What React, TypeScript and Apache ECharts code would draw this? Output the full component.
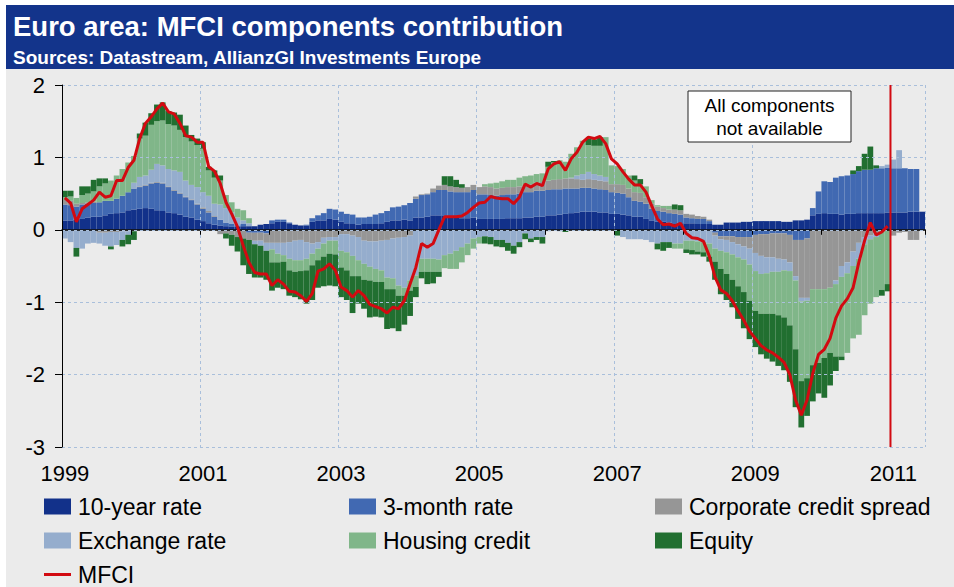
import React, { useEffect, useRef } from "react";
import * as echarts from "echarts";

// Monthly categories, Jan 1999 - Jun 2011
const months: string[] = [];
for (let i = 0; i < 150; i++) {
  const y = 1999 + Math.floor(i / 12);
  const m = (i % 12) + 1;
  months.push(`${y}-${m < 10 ? "0" + m : m}`);
}

const tenYear = [
  0.13, 0.13, 0.14, 0.15, 0.17, 0.18, 0.18, 0.2, 0.22, 0.23, 0.24, 0.27,
  0.28, 0.29, 0.3, 0.29, 0.27, 0.26, 0.24, 0.23, 0.21, 0.18, 0.17, 0.14,
  0.12, 0.09, 0.07, 0.06, 0.05, 0.04, 0.04, 0.05, 0.05, 0.05, 0.07, 0.08,
  0.09, 0.11, 0.11, 0.09, 0.07, 0.06, 0.06, 0.11, 0.13, 0.13, 0.15, 0.14,
  0.11, 0.09, 0.08, 0.07, 0.08, 0.08, 0.08, 0.09, 0.11, 0.13, 0.13, 0.14,
  0.13, 0.17, 0.17, 0.18, 0.2, 0.2, 0.2, 0.18, 0.17, 0.16, 0.16, 0.17,
  0.15, 0.15, 0.15, 0.15, 0.15, 0.16, 0.16, 0.16, 0.17, 0.17, 0.18, 0.18,
  0.2, 0.2, 0.21, 0.22, 0.23, 0.24, 0.25, 0.25, 0.25, 0.24, 0.24, 0.22,
  0.22, 0.21, 0.2, 0.18, 0.18, 0.15, 0.13, 0.11, 0.11, 0.1, 0.09, 0.09,
  0.09, 0.09, 0.08, 0.08, 0.08, 0.07, 0.07, 0.1, 0.1, 0.1, 0.11, 0.11,
  0.12, 0.12, 0.12, 0.12, 0.12, 0.11, 0.11, 0.13, 0.13, 0.14, 0.2, 0.22,
  0.23, 0.22, 0.22, 0.21, 0.22, 0.22, 0.23, 0.23, 0.23, 0.23, 0.23, 0.24,
  0.24, 0.24, 0.24, 0.25, 0.25, 0.25,
];

const threeMonth = [
  0.22, 0.21, 0.18, 0.2, 0.19, 0.19, 0.2, 0.2, 0.18, 0.2, 0.23, 0.25,
  0.29, 0.3, 0.31, 0.35, 0.38, 0.38, 0.35, 0.31, 0.29, 0.27, 0.24, 0.21,
  0.17, 0.15, 0.11, 0.08, 0.05, 0.04, 0.02, 0.03, -0.04, -0.04, -0.04, -0.05,
  0.04, 0.03, 0.03, 0.01, 0.0, 0.0, 0.01, 0.05, 0.07, 0.1, 0.14, 0.14,
  0.14, 0.13, 0.13, 0.1, 0.09, 0.1, 0.13, 0.14, 0.15, 0.18, 0.19, 0.2,
  0.24, 0.26, 0.31, 0.31, 0.32, 0.35, 0.35, 0.35, 0.35, 0.36, 0.36, 0.38,
  0.34, 0.34, 0.33, 0.32, 0.33, 0.33, 0.33, 0.34, 0.35, 0.35, 0.36, 0.36,
  0.35, 0.36, 0.35, 0.35, 0.34, 0.33, 0.33, 0.33, 0.32, 0.32, 0.31, 0.3,
  0.29, 0.29, 0.25, 0.22, 0.21, 0.21, 0.16, 0.15, 0.14, 0.13, 0.13, 0.12,
  0.08, 0.07, 0.07, 0.07, 0.04, -0.04, -0.09, -0.09, -0.09, -0.1, -0.1, -0.1,
  -0.07, -0.06, -0.06, -0.05, -0.05, -0.05, -0.07, -0.14, -0.14, -0.12, 0.1, 0.31,
  0.44, 0.44, 0.5, 0.53, 0.53, 0.55, 0.58, 0.6, 0.6, 0.62, 0.62, 0.62,
  0.61, 0.61, 0.61, 0.59, 0.59, 0,
];

const corpSpread = [
  0.06, 0.06, 0.04, 0.02, 0.02, 0.02, -0.04, -0.04, -0.03, -0.03, -0.02, -0.02,
  -0.02, 0.01, 0.01, 0.01, 0.01, 0.01, 0.01, 0.01, 0.01, 0.01, 0.01, 0.01,
  0.02, 0.02, 0.01, -0.06, -0.05, -0.07, -0.1, -0.12, -0.1, -0.11, -0.11, -0.13,
  -0.18, -0.18, -0.18, -0.17, -0.15, -0.14, -0.17, -0.19, -0.17, -0.11, -0.1, -0.1,
  -0.06, -0.06, -0.08, -0.1, -0.15, -0.16, -0.16, -0.15, -0.14, -0.12, -0.11, -0.1,
  -0.08, 0.03, 0.01, 0.01, 0.05, 0.06, 0.07, 0.07, 0.07, 0.06, 0.07, 0.07,
  0.1, 0.11, 0.11, 0.1, 0.1, 0.1, 0.1, 0.1, 0.1, 0.11, 0.11, 0.12,
  0.13, 0.13, 0.14, 0.14, 0.14, 0.13, 0.11, 0.12, 0.12, 0.12, 0.12, 0.11,
  0.12, 0.12, 0.12, 0.12, 0.12, 0.09, 0.07, 0.06, 0.05, 0.05, 0.06, 0.06,
  0.05, 0.05, 0.04, 0.03, 0.02, -0.04, -0.04, -0.05, -0.08, -0.1, -0.13, -0.16,
  -0.25, -0.3, -0.32, -0.33, -0.35, -0.36, -0.38, -0.5, -0.8, -0.82, -0.82, -0.82,
  -0.82, -0.8, -0.7, -0.5, -0.45, -0.3, -0.18, -0.1, -0.08, -0.05, -0.03, 0.0,
  -0.08, -0.04, -0.03, -0.14, -0.14, 0,
];

const exchangeRate = [
  -0.12, -0.17, -0.25, -0.26, -0.19, -0.18, -0.15, -0.18, -0.2, -0.18, -0.12, -0.05,
  0.08, 0.13, 0.13, 0.18, 0.25, 0.24, 0.24, 0.27, 0.29, 0.22, 0.2, 0.23,
  0.21, 0.21, 0.17, 0.21, 0.2, 0.16, 0.11, 0.05, 0.04, -0.05, -0.07, -0.11,
  -0.09, -0.15, -0.17, -0.23, -0.27, -0.28, -0.23, -0.14, -0.09, -0.08, -0.05, -0.05,
  -0.23, -0.25, -0.28, -0.32, -0.32, -0.35, -0.38, -0.41, -0.52, -0.55, -0.66, -0.7,
  -0.62, -0.63, -0.4, -0.4, -0.4, -0.41, -0.35, -0.33, -0.29, -0.24, -0.19, -0.12,
  -0.1, -0.09, -0.1, -0.14, -0.14, -0.18, -0.22, -0.17, -0.05, -0.12, -0.1, -0.1,
  -0.02, 0.0, -0.02, 0.0, 0.01, 0.05, 0.08, 0.1, 0.08, 0.07, 0.06, 0.0,
  0.0, -0.1, -0.13, -0.13, -0.13, -0.14, -0.17, -0.19, -0.17, -0.17, -0.19, -0.19,
  -0.15, -0.15, -0.16, -0.17, -0.19, -0.18, -0.16, -0.17, -0.17, -0.18, -0.18, -0.22,
  -0.25, -0.25, -0.22, -0.2, -0.18, -0.15, -0.12, -0.06, -0.05, -0.04, 0.0, 0.0,
  0.0, 0.0, -0.05, -0.15, -0.15, -0.2, -0.22, -0.1, -0.05, -0.05, 0.03, 0.04,
  0.12, 0.25, 0.0, 0.0, 0.0, 0,
];

const housingCredit = [
  0.04, 0.06, 0.08, 0.11, 0.12, 0.14, 0.22, 0.24, 0.28, 0.32, 0.37, 0.41,
  0.37, 0.53, 0.55, 0.62, 0.59, 0.62, 0.62, 0.62, 0.58, 0.6, 0.6, 0.58,
  0.6, 0.35, 0.36, 0.33, 0.18, 0.14, 0.12, 0.14, 0.07, 0.0, 0.0, 0.0,
  -0.18, -0.12, -0.09, -0.16, -0.16, -0.15, -0.16, -0.16, -0.16, -0.18, -0.18, -0.19,
  -0.23, -0.25, -0.28, -0.22, -0.22, -0.19, -0.18, -0.16, -0.16, -0.15, -0.14, -0.11,
  -0.14, -0.16, -0.18, -0.18, -0.18, -0.17, -0.18, -0.21, -0.25, -0.21, -0.16, -0.14,
  -0.09, 0.03, 0.05, 0.08, 0.09, 0.1, 0.1, 0.12, 0.12, 0.12, 0.12, 0.12,
  0.19, 0.24, 0.26, 0.23, 0.33, 0.39, 0.46, 0.37, 0.39, 0.41, 0.55, 0.26,
  0.25, 0.22, 0.18, 0.16, 0.12, 0.15, 0.05, 0.02, 0.03, 0.05, -0.07, -0.07,
  -0.12, -0.13, -0.14, -0.14, -0.18, -0.18, -0.25, -0.3, -0.35, -0.4, -0.45, -0.5,
  -0.55, -0.55, -0.56, -0.58, -0.6, -0.65, -0.75, -0.95, -1.1, -1.07, -1.05, -1.02,
  -0.95, -0.9, -1.0, -1.1, -1.1, -1.0, -1.05, -0.98, -0.89, -0.83, -0.8, -0.75,
  0, 0, 0, 0, 0, 0,
];

const equity = [
  0.09, 0.08, -0.12, 0.12, 0.1, 0.16, 0.11, 0.07, -0.04, 0.0, -0.09, -0.13,
  -0.12, 0.07, 0.18, 0.16, 0.23, 0.25, 0.18, 0.18, 0.21, 0.16, 0.09, 0.09,
  0.09, 0.05, 0.1, 0.07, -0.07, -0.15, -0.2, -0.37, -0.47, -0.46, -0.44, -0.4,
  -0.39, -0.35, -0.38, -0.35, -0.35, -0.39, -0.46, -0.48, -0.38, -0.41, -0.44, -0.44,
  -0.41, -0.41, -0.51, -0.38, -0.4, -0.51, -0.48, -0.49, -0.55, -0.54, -0.49, -0.4,
  -0.35, -0.14, -0.09, -0.17, -0.16, -0.07, 0.12, 0.14, 0.1, 0.05, 0.0, 0.0,
  0.0, -0.1, -0.1, -0.09, -0.1, -0.11, -0.11, -0.07, -0.08, -0.05, -0.04, -0.09,
  0.07, 0.02, 0.0, -0.03, 0.0, 0.0, 0.0, 0.09, 0.09, 0.12, 0.0, 0.0,
  -0.08, 0.0, 0.0, 0.07, 0.07, 0.0, 0.0, -0.08, -0.12, -0.08, 0.07, 0.07,
  -0.05, -0.06, -0.04, -0.06, -0.07, -0.25, -0.35, -0.36, -0.38, -0.45, -0.5, -0.53,
  -0.5, -0.56, -0.62, -0.66, -0.7, -0.73, -0.78, -0.8, -0.64, -0.52, -0.5, -0.42,
  -0.55, -0.45, -0.2, -0.05, 0.0, 0.05, 0.07, 0.22, 0.32, 0.04, -0.08, -0.1,
  0, 0, 0, 0, 0, 0,
];

const mfci: (number | null)[] = [
  0.44, 0.37, 0.11, 0.29, 0.35, 0.41, 0.52, 0.45, 0.47, 0.68, 0.68, 0.86,
  0.96, 1.26, 1.47, 1.56, 1.67, 1.75, 1.63, 1.6, 1.47, 1.3, 1.28, 1.21,
  1.21, 0.87, 0.81, 0.64, 0.38, 0.22, 0.04, -0.22, -0.45, -0.59, -0.61, -0.61,
  -0.77, -0.69, -0.75, -0.85, -0.86, -0.91, -0.99, -0.88, -0.57, -0.54, -0.47, -0.56,
  -0.79, -0.84, -0.93, -0.84, -0.91, -1.03, -1.06, -1.09, -1.15, -1.07, -1.09, -0.98,
  -0.75, -0.52, -0.19, -0.24, -0.19, 0.0, 0.18, 0.18, 0.18, 0.19, 0.24, 0.31,
  0.37, 0.38, 0.46, 0.44, 0.43, 0.43, 0.36, 0.45, 0.63, 0.59, 0.64, 0.61,
  0.84, 0.91, 0.94, 0.82, 0.98, 1.07, 1.21, 1.28, 1.26, 1.29, 1.19, 0.98,
  0.91, 0.8, 0.7, 0.62, 0.62, 0.52, 0.33, 0.15, 0.07, 0.08, 0.05, 0.09,
  -0.05, -0.11, -0.12, -0.16, -0.36, -0.65, -0.83, -0.88, -0.98, -1.12, -1.25, -1.4,
  -1.5, -1.6, -1.66, -1.7, -1.76, -1.83, -2.0, -2.35, -2.56, -2.35, -1.98, -1.72,
  -1.65, -1.5, -1.22, -1.05, -0.95, -0.8, -0.45, -0.15, 0.1, -0.07, -0.03, 0.05,
  null, null, null, null, null, null,
];

const componentNames = [
  "10-year rate",
  "3-month rate",
  "Corporate credit spread",
  "Exchange rate",
  "Housing credit",
  "Equity",
];
const componentColors = ["#12318A", "#4169B2", "#969696", "#95ADCD", "#80B689", "#216F30"];
const componentData = [tenYear, threeMonth, corpSpread, exchangeRate, housingCredit, equity];

const yTicks = [-3, -2, -1, 0, 1, 2];
const cutoffMonth = "2011-01";
const FONT = '"Liberation Sans", Arial, Helvetica, sans-serif';
const RED = "#D20A11";

export default function App() {
  const ref = useRef<HTMLDivElement>(null);
  useEffect(() => {
    document.body.style.margin = "0";
    document.body.style.background = "#ffffff";
    if (!ref.current) return;
    const chart = echarts.init(ref.current, undefined, { renderer: "svg" });
    const cutoffIndex = months.indexOf(cutoffMonth);
    const yMin = yTicks[0];
    const yMax = yTicks[yTicks.length - 1];

    const bars = componentNames.map((name, i) => ({
      name,
      type: "bar",
      stack: "total",
      xAxisIndex: 0,
      yAxisIndex: 0,
      data: componentData[i],
      barCategoryGap: "0%",
      barGap: "0%",
      itemStyle: { color: componentColors[i], borderWidth: 0 },
      emphasis: { disabled: true },
      z: 2,
    }));

    const legendText = { fontSize: 23, color: "#000", fontFamily: FONT, padding: [0, 0, 0, 2] };
    const legendBase = {
      orient: "vertical",
      top: 495,
      itemWidth: 27,
      itemHeight: 16,
      itemGap: 11,
      padding: 0,
      selectedMode: false,
      textStyle: legendText,
    };

    chart.setOption({
      animation: false,
      backgroundColor: "#EBEBEB",
      grid: { left: 62, top: 85, width: 863, height: 362, containLabel: false },
      xAxis: [
        {
          type: "category",
          data: months,
          boundaryGap: true,
          axisLine: { show: true, onZero: true, lineStyle: { color: "#000", width: 1.5 } },
          axisTick: {
            show: true,
            interval: (i: number) => i % 12 === 0,
            length: 5,
            lineStyle: { color: "#000", width: 1 },
          },
          axisLabel: { show: false },
          splitLine: {
            show: true,
            interval: (i: number) => i > 0 && i % 24 === 0,
            lineStyle: { color: "#A9BFDB", type: [3, 3], width: 1 },
          },
          z: 3,
        },
        {
          type: "category",
          data: months,
          position: "bottom",
          boundaryGap: true,
          axisLine: { show: false, onZero: false },
          axisTick: { show: false },
          splitLine: { show: false },
          axisLabel: {
            interval: (i: number) => i % 24 === 0,
            formatter: (v: string) => v.slice(0, 4),
            fontSize: 22,
            color: "#000",
            fontFamily: FONT,
            margin: 15,
          },
        },
        { type: "value", min: 0, max: months.length, show: false },
      ],
      yAxis: {
        type: "value",
        min: yMin,
        max: yMax,
        interval: 1,
        z: 4,
        axisLine: { show: true, onZero: false, lineStyle: { color: "#000", width: 1 } },
        axisTick: { show: true, length: 7, lineStyle: { color: "#000" } },
        axisLabel: { fontSize: 22, color: "#000", fontFamily: FONT, margin: 17 },
        splitLine: { show: true, lineStyle: { color: "#A9BFDB", type: [3, 3], width: 1 } },
      },
      legend: [
        { ...legendBase, left: 44, data: [
          { name: "10-year rate", icon: "rect" },
          { name: "Exchange rate", icon: "rect" },
          { name: "MFCI", icon: "path://M0,0H27V3H0Z" },
        ] },
        { ...legendBase, left: 349, data: [
          { name: "3-month rate", icon: "rect" },
          { name: "Housing credit", icon: "rect" },
        ] },
        { ...legendBase, left: 655, data: [
          { name: "Corporate credit spread", icon: "rect" },
          { name: "Equity", icon: "rect" },
        ] },
      ],
      series: [
        ...bars,
        {
          name: "MFCI",
          type: "line",
          xAxisIndex: 0,
          yAxisIndex: 0,
          data: mfci,
          symbol: "none",
          showSymbol: false,
          connectNulls: false,
          lineStyle: { color: RED, width: 3 },
          itemStyle: { color: RED },
          emphasis: { disabled: true },
          z: 6,
        },
        {
          name: "cutoff",
          type: "line",
          xAxisIndex: 2,
          yAxisIndex: 0,
          data: [
            [cutoffIndex, yMin],
            [cutoffIndex, yMax],
          ],
          symbol: "none",
          lineStyle: { color: RED, width: 2 },
          emphasis: { disabled: true },
          silent: true,
          z: 7,
        },
      ],
      graphic: [
        { type: "rect", shape: { x: 0, y: 0, width: 954, height: 5 }, style: { fill: "#ffffff" }, silent: true },
        { type: "rect", shape: { x: 0, y: 0, width: 6, height: 587 }, style: { fill: "#ffffff" }, silent: true },
        { type: "rect", shape: { x: 6, y: 5, width: 948, height: 64 }, style: { fill: "#13348B" }, silent: true },
        {
          type: "text",
          x: 13,
          y: 26,
          style: {
            text: "Euro area: MFCI components contribution",
            fill: "#ffffff",
            font: `bold 27.5px ${FONT}`,
            verticalAlign: "middle",
          },
        },
        {
          type: "text",
          x: 13,
          y: 57,
          style: {
            text: "Sources: Datastream, AllianzGI Investments Europe",
            fill: "#ffffff",
            font: `bold 19px ${FONT}`,
            verticalAlign: "middle",
          },
        },
        {
          type: "rect",
          z: 100,
          shape: { x: 688, y: 91, width: 163, height: 51 },
          style: { fill: "#ffffff", stroke: "#222222", lineWidth: 1 },
        },
        {
          type: "text",
          z: 101,
          x: 769.5,
          y: 116.5,
          style: {
            text: "All components\nnot available",
            fill: "#000",
            font: `19px ${FONT}`,
            align: "center",
            verticalAlign: "middle",
            lineHeight: 23,
          },
        },
      ],
    });
    return () => chart.dispose();
  }, []);
  return <div ref={ref} style={{ width: 954, height: 587, overflow: "hidden" }} />;
}
